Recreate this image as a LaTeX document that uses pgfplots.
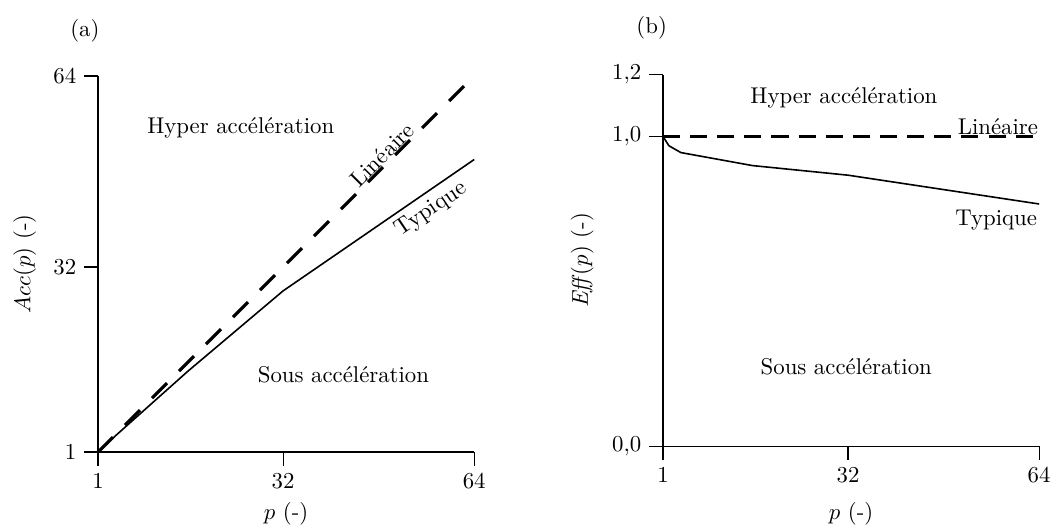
\documentclass[border=0pt]{standalone}
\usepackage{pgfplots}
\pgfplotsset{compat=1.18}

\pgfplotsset{
  panel/.style={
    scale only axis,
    width=165pt,
    axis x line*=bottom,
    axis y line*=left,
    axis line style={line width=0.55pt},
    tick style={line width=0.55pt, black},
    tick align=outside,
    major tick length=6pt,
    xmin=1, xmax=64,
    xtick={1,32,64},
    xlabel={$p$ (-)},
    clip=false,
  },
}

\begin{document}
\begin{tikzpicture}
% (a) acceleration
\begin{axis}[panel,
    at={(0pt,0pt)}, anchor=south west,
    height=165pt,
    ymin=1, ymax=64,
    ytick={1,32,64},
    ylabel={$Acc(p)$ (-)},
    ylabel style={at={(axis description cs:-0.195,0.5)}, anchor=center},
    xlabel style={at={(axis description cs:0.5,-0.165)}, anchor=center},
  ]
  \addplot[black, line width=1.4pt, dash pattern=on 9.25pt off 7.5pt] coordinates {(1,1) (64,64)};
  \addplot[black, line width=0.7pt] coordinates {(1,1) (2,1.94) (4,3.8) (16,14.5) (32,28) (64,50)};
  \node at (axis cs:24.9,55.3) {Hyper accélération};
  \node at (axis cs:42.1,14.0) {Sous accélération};
  \node[rotate=45] at (axis cs:48.6,50.8) {Linéaire};
  \node[rotate=34] at (axis cs:56.8,41.6) {Typique};
  \node at (axis description cs:-0.035,1.12) {(a)};
\end{axis}
% (b) efficiency
\begin{axis}[panel,
    at={(247.8pt,2.6pt)}, anchor=south west,
    height=163pt,
    ymin=0, ymax=1.2,
    ytick={0,1,1.2},
    yticklabel style={/pgf/number format/.cd, use comma, fixed, fixed zerofill, precision=1},
    ylabel={\textit{Eff}$(p)$ (-)},
    ylabel style={at={(axis description cs:-0.215,0.5)}, anchor=center},
    xlabel style={at={(axis description cs:0.5,-0.183)}, anchor=center},
  ]
  \addplot[black, line width=1.4pt, dash pattern=on 7.5pt off 4.4pt] coordinates {(1,1) (64,1)};
  \addplot[black, line width=0.7pt] coordinates {(1,1) (2,0.97) (4,0.948) (16,0.906) (32,0.875) (64,0.782)};
  \node at (axis cs:31.3,1.124) {Hyper accélération};
  \node at (axis cs:57.1,1.033) {Linéaire};
  \node at (axis cs:56.8,0.729) {Typique};
  \node at (axis cs:31.7,0.255) {Sous accélération};
  \node at (axis description cs:-0.03,1.125) {(b)};
\end{axis}
\pgfresetboundingbox
\path[use as bounding box] (-43pt,-34.2pt) rectangle (420.2pt,198.3pt);
\end{tikzpicture}
\end{document}
